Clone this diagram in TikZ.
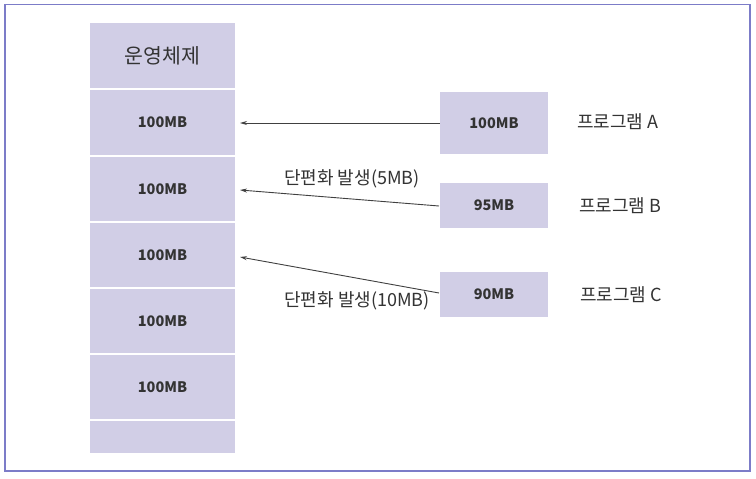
\documentclass[tikz,border=0pt]{standalone}
\usepackage{fontspec}
\setmainfont{Noto Sans CJK KR}
\usetikzlibrary{arrows.meta}
\definecolor{blk}{HTML}{D1CEE6}
\definecolor{frm}{HTML}{7C7CC8}
\definecolor{txt}{HTML}{333333}
\tikzset{
  mem/.style={fill=blk, draw=none, minimum width=145pt, inner sep=0pt, text=txt, font=\fontsize{14.5}{14.5}\selectfont\bfseries},
  prog/.style={fill=blk, draw=none, minimum width=108pt, inner sep=0pt, text=txt, font=\fontsize{14.5}{14.5}\selectfont\bfseries},
  lbl/.style={inner sep=0pt, text=txt, font=\fontsize{18}{18}\selectfont},
  arr/.style={-{Stealth[length=7pt,width=4pt]}, draw=black!75, line width=0.9pt}
}
\begin{document}
\begin{tikzpicture}[x=1pt,y=-1pt]
\useasboundingbox (0,0) rectangle (756,479);
\fill[white] (0,0) rectangle (756,479);
\draw[frm, line width=1.5pt] (5,4.5) rectangle (750,471);
% memory column
\node[mem, minimum height=65pt, font=\fontsize{20.5}{20.5}\selectfont] (os) at (162.5,55.5) {운영체제};
\node[mem, minimum height=65pt] (m1) at (162.5,122.5) {100MB};
\node[mem, minimum height=64pt] (m2) at (162.5,189) {100MB};
\node[mem, minimum height=64pt] (m3) at (162.5,255) {100MB};
\node[mem, minimum height=64pt] (m4) at (162.5,321) {100MB};
\node[mem, minimum height=64pt] (m5) at (162.5,387) {100MB};
\node[mem, minimum height=32pt] (m6) at (162.5,437) {};
% programs
\node[prog, minimum height=62pt] (pa) at (494,123) {100MB};
\node[prog, minimum height=45pt] (pb) at (494,205.5) {95MB};
\node[prog, minimum height=45pt] (pc) at (494,294.5) {90MB};
\node[lbl, anchor=west] (la) at (577,122) {프로그램 A};
\node[lbl, anchor=west] (lb) at (579,206) {프로그램 B};
\node[lbl, anchor=west] (lc) at (580,295) {프로그램 C};
% arrows
\coordinate (ea) at (240,123);
\coordinate (eb) at (240,190);
\coordinate (ec) at (240,257);
\coordinate (sb) at (439,206);
\coordinate (sc) at (439,293);
\draw[arr] (pa.west) -- (ea);
\draw[arr] (sb) -- (eb);
\draw[arr] (sc) -- (ec);
\node[lbl] (fb) at (352,179) {단편화 발생(5MB)};
\node[lbl] (fc) at (357,301) {단편화 발생(10MB)};
\end{tikzpicture}
\end{document}
